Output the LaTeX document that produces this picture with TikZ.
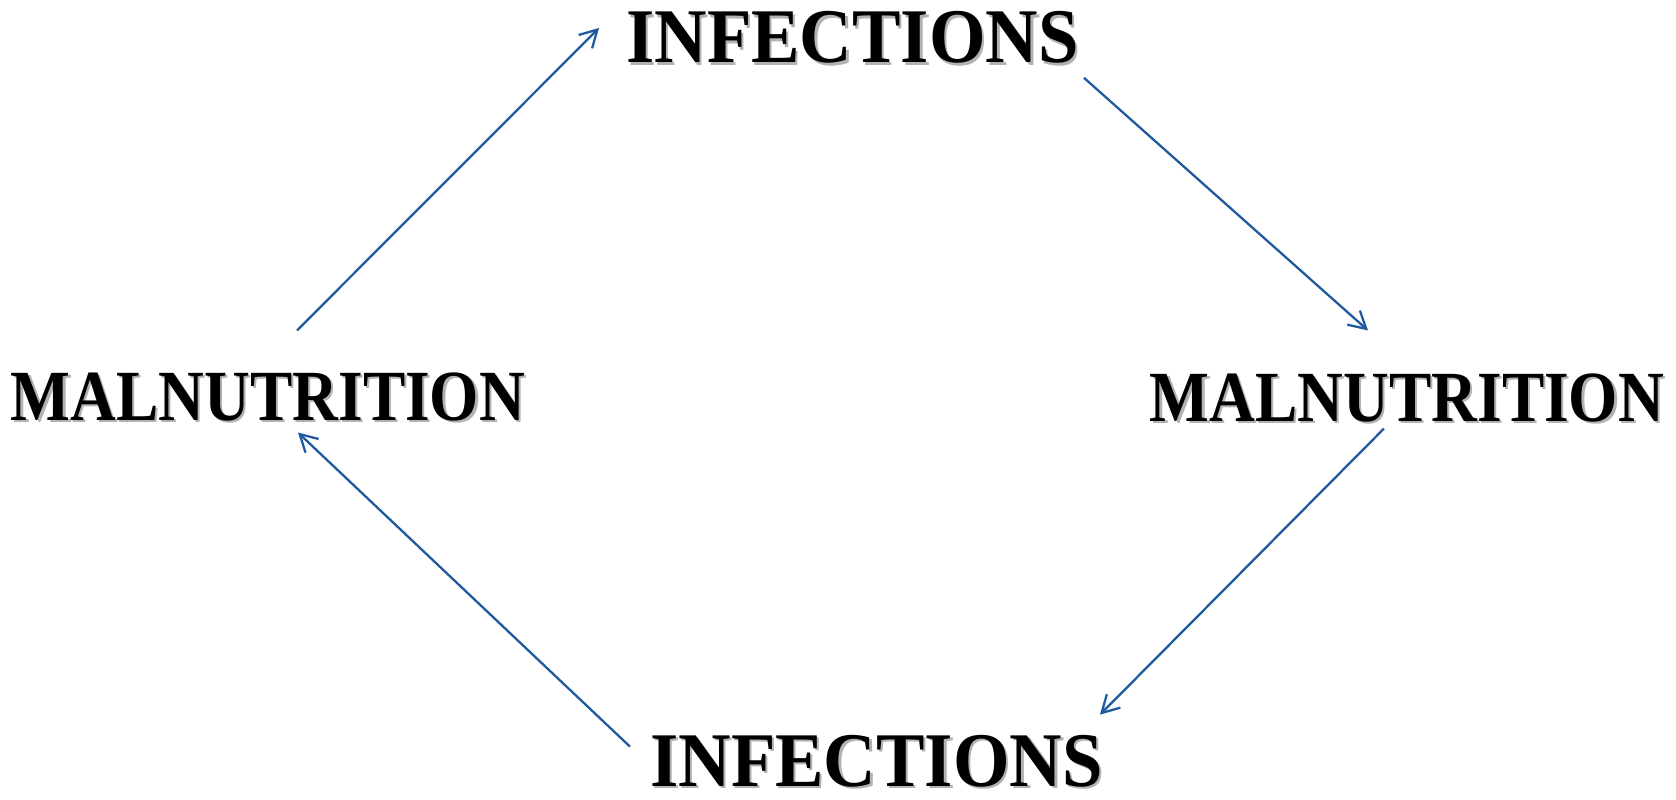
\documentclass[tikz,border=0pt]{standalone}
\usepackage{fontspec}
\setmainfont{Liberation Serif}
\usepackage{tikz}
\usetikzlibrary{arrows.meta, calc}

\definecolor{cyclearrow}{HTML}{1F5A9E}
\newcommand{\castshadow}[1]{\leavevmode\rlap{\kern1.4pt\raisebox{-1.4pt}[0pt][0pt]{\color{black!30}#1}}#1}

\begin{document}
\begin{tikzpicture}[x=0.02cm, y=0.02cm,
		word/.style = {inner sep=0pt, font=\bfseries},
		infword/.style = {word, font=\fontsize{44}{44}\selectfont\bfseries, xscale=0.94, transform shape},
		malword/.style = {word, font=\fontsize{41}{41}\selectfont\bfseries, xscale=0.88, transform shape},
		cycle/.style = {draw=cyclearrow, line width=1.3pt, -{Straight Barb[length=3.4mm, width=3.8mm]}}]
				\fill[white] (0,0) rectangle (1676,800);
				\useasboundingbox (0,0) rectangle (1676,800);
				\node [infword] (topinf) at (852.5, 762.5) {\castshadow{INFECTIONS}};
				\node [malword] (rightmal) at (1407, 402) {\castshadow{MALNUTRITION}};
				\node [infword] (botinf) at (876.5, 39) {\castshadow{INFECTIONS}};
				\node [malword] (leftmal) at (268, 403) {\castshadow{MALNUTRITION}};
				\draw [cycle] ($(leftmal.north)+(29,42)$) -- ($(topinf.west)+(-27,9.5)$);
				\draw [cycle] ($(topinf.south east)+(5,-14)$) -- ($(rightmal.north)+(-39,43)$);
				\draw [cycle] ($(rightmal.south)+(-23,-6)$) -- ($(botinf.north east)+(-3,20)$);
				\draw [cycle] ($(botinf.north west)+(-20,-12)$) -- ($(leftmal.south)+(30,-11)$);
			\end{tikzpicture}
\end{document}
